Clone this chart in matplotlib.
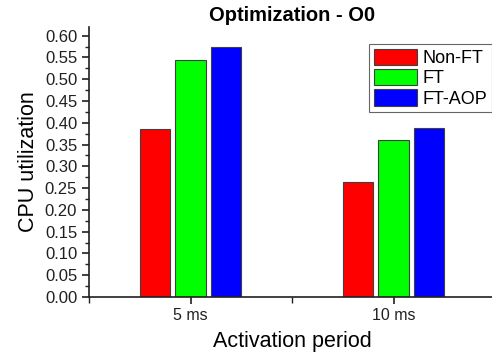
import numpy as np
import matplotlib.pyplot as plt
from matplotlib.ticker import MultipleLocator

plt.rcParams['font.family'] = ['Liberation Sans', 'DejaVu Sans']

#---------------------------------------
periods = ['5 ms', '10 ms']
series = ['Non-FT', 'FT', 'FT-AOP']
non_ft = [0.385, 0.264]
ft = [0.545, 0.361]
ft_aop = [0.575, 0.389]
colors = ['#ff0000', '#00ff00', '#0000ff']
#---------------------------------------

fig = plt.figure(figsize=(4.92, 3.58), dpi=100)
ax = fig.add_axes([89/492, 61/358, 406/492, 270/358])

x = np.arange(1, len(periods) + 1)
w = 0.148
step = 0.177
for i, (vals, name) in enumerate(zip([non_ft, ft, ft_aop], series)):
    ax.bar(x + (i - 1) * step, vals, width=w, color=colors[i],
           edgecolor='#404040', linewidth=0.8, label=name)

ax.set_xlim(0.5, 2.5)
ax.set_ylim(0, 0.62)
ax.set_xticks(x)
ax.set_xticklabels(periods)
ax.xaxis.set_minor_locator(MultipleLocator(0.5))
ax.yaxis.set_major_locator(MultipleLocator(0.05))
ax.yaxis.set_minor_locator(MultipleLocator(0.025))
ax.yaxis.set_major_formatter(plt.FormatStrFormatter('%.2f'))

for s in ['top', 'right']:
    ax.spines[s].set_visible(False)
for s in ['left', 'bottom']:
    ax.spines[s].set_linewidth(1.2)
    ax.spines[s].set_color('#202020')

ax.tick_params(axis='both', which='major', length=5, width=1.2, labelsize=12, colors='#202020')
ax.tick_params(axis='both', which='minor', length=3, width=1.0, colors='#202020')
ax.tick_params(axis='x', which='major', pad=3, labelsize=11.5)
ax.tick_params(axis='x', which='minor', length=4)

ax.set_xlabel('Activation period', fontsize=15.5, labelpad=6)
ax.set_ylabel('CPU utilization', fontsize=15.5, labelpad=4)
ax.set_title('Optimization - O0', fontsize=14.5, fontweight='bold', pad=4)

leg = ax.legend(loc='upper right', bbox_to_anchor=(403/406, 1 - 17/270), fontsize=13,
                frameon=True, fancybox=False, edgecolor='#404040',
                handlelength=2.4, handleheight=1.0, borderpad=0.25,
                labelspacing=0.12, handletextpad=0.3, borderaxespad=0)
leg.get_frame().set_linewidth(0.8)

fig.savefig('out.png', dpi=100)
